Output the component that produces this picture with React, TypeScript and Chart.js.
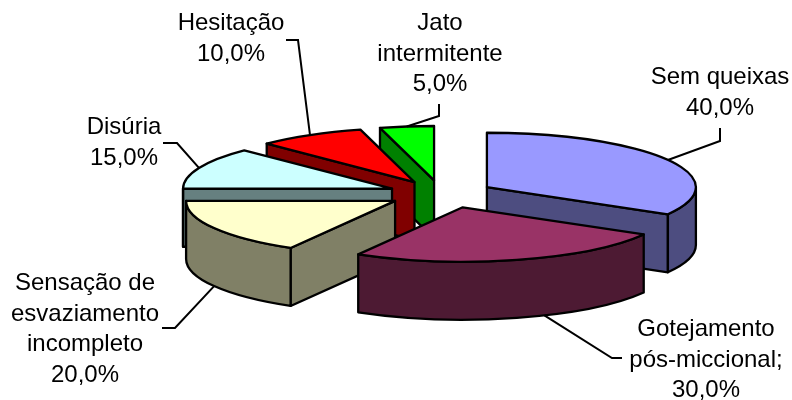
import { useEffect, useRef } from "react";
import { Chart, registerables } from "chart.js";

Chart.register(...registerables);

// Urinary complaints, as percentages.
const categories = [
  "Sem queixas",
  "Gotejamento pós-miccional",
  "Sensação de esvaziamento incompleto",
  "Disúria",
  "Hesitação",
  "Jato intermitente",
];
const percentages = [40, 30, 20, 15, 10, 5];
const labelLines = [
  ["Sem queixas"],
  ["Gotejamento", "pós-miccional;"],
  ["Sensação de", "esvaziamento", "incompleto"],
  ["Disúria"],
  ["Hesitação"],
  ["Jato", "intermitente"],
];
const topColors = ["#9999FF", "#993366", "#FFFFCC", "#CCFFFF", "#FF0000", "#00FF00"];
const wallColors = ["#4D4D80", "#4D1A33", "#808066", "#668080", "#800000", "#008000"];

// Callout placement: text centre, first baseline, leader elbow points, and how far
// the leader's foot sits from the middle of its slice, in degrees.
const callouts = [
  { x: 720, y: 84, elbow: [[720, 141], [720, 128]], foot: 0 },
  { x: 706, y: 336, elbow: [[612, 358], [622, 358]], foot: -8 },
  { x: 85, y: 290, elbow: [[175, 328], [162, 328]], foot: 0 },
  { x: 124, y: 134, elbow: [[177, 143], [163, 143]], foot: 0 },
  { x: 231, y: 30, elbow: [[298, 40], [286, 40]], foot: 0 },
  { x: 440, y: 30, elbow: [[439, 116], [439, 104]], foot: 0 },
];

const PIE_X = 441;
const PIE_Y = 194;
const RADIUS = 209;
const SQUASH = 0.26;
const EXPLODE = 53;
const DEPTH = 58;
const LINE_HEIGHT = 30.5;
const STROKE = 2.3;
const drawOrder = [5, 4, 3, 0, 2, 1];
const sliceShiftX = [0, 8, 0, 0, 0, 0];
const pctText = (v: number) => `${v.toFixed(1).replace(".", ",")}%`;

// Draws each pie arc as an exploded, tilted prism: walls first, then the library's arc as the lid.
const prismPie = {
  id: "prismPie",
  beforeDatasetsDraw(chart: any) {
    const { ctx } = chart;
    const arcs = chart.getDatasetMeta(0).data;
    const apexOf = (arc: any, i: number) => {
      const mid = (arc.startAngle + arc.endAngle) / 2;
      return {
        x: PIE_X + Math.cos(mid) * EXPLODE + sliceShiftX[i],
        y: PIE_Y + Math.sin(mid) * EXPLODE * SQUASH,
      };
    };
    const ry = RADIUS * SQUASH;

    for (const i of drawOrder) {
      const arc = arcs[i];
      const { startAngle: s, endAngle: e } = arc;
      const a = apexOf(arc, i);
      ctx.save();
      ctx.lineWidth = STROKE;
      ctx.strokeStyle = "#000";
      ctx.lineJoin = "round";
      ctx.fillStyle = wallColors[i];

      const cutWall = (t: number) => {
        const rx0 = a.x + Math.cos(t) * RADIUS;
        const ry0 = a.y + Math.sin(t) * ry;
        ctx.beginPath();
        ctx.moveTo(a.x, a.y);
        ctx.lineTo(rx0, ry0);
        ctx.lineTo(rx0, ry0 + DEPTH);
        ctx.lineTo(a.x, a.y + DEPTH);
        ctx.closePath();
        ctx.fill();
        ctx.stroke();
      };
      if (Math.cos(s) < 0) cutWall(s);
      if (Math.cos(e) > 0) cutWall(e);

      // Outer wall, the part of the rim that faces the viewer.
      const from = Math.max(s, 0);
      const to = Math.min(e, Math.PI);
      if (to > from) {
        ctx.beginPath();
        ctx.ellipse(a.x, a.y, RADIUS, ry, 0, from, to);
        ctx.ellipse(a.x, a.y + DEPTH, RADIUS, ry, 0, to, from, true);
        ctx.closePath();
        ctx.fill();
        ctx.stroke();
      }

      // Lid: the arc element itself, flattened onto the tilted plane.
      ctx.save();
      ctx.translate(a.x, a.y);
      ctx.scale(1, SQUASH);
      ctx.translate(-arc.x, -arc.y);
      arc.draw(ctx);
      ctx.restore();
      ctx.beginPath();
      ctx.moveTo(a.x, a.y);
      ctx.ellipse(a.x, a.y, RADIUS, ry, 0, s, e);
      ctx.closePath();
      ctx.stroke();
      ctx.restore();
    }

    // Callouts and their leader lines.
    ctx.save();
    ctx.fillStyle = "#000";
    ctx.strokeStyle = "#000";
    ctx.lineWidth = 2;
    ctx.font = '24px "Liberation Sans"';
    ctx.textAlign = "center";
    ctx.textBaseline = "alphabetic";
    arcs.forEach((arc: any, i: number) => {
      const a = apexOf(arc, i);
      const c = callouts[i];
      const foot = (arc.startAngle + arc.endAngle) / 2 + (c.foot * Math.PI) / 180;
      const sinF = Math.sin(foot);
      ctx.beginPath();
      ctx.moveTo(
        a.x + Math.cos(foot) * RADIUS,
        a.y + sinF * ry + (sinF > 0.3 ? DEPTH : 0)
      );
      c.elbow.forEach(([x, y]) => ctx.lineTo(x, y));
      ctx.stroke();
      const lines = [...labelLines[i], pctText(percentages[i])];
      lines.forEach((t, n) => ctx.fillText(t, c.x, c.y + n * LINE_HEIGHT));
    });
    ctx.restore();
    return false;
  },
};

export default function App() {
  const ref = useRef<HTMLCanvasElement>(null);
  useEffect(() => {
    const chart = new Chart(ref.current!, {
      type: "pie",
      data: {
        labels: categories,
        datasets: [
          {
            data: percentages,
            backgroundColor: topColors,
            borderWidth: 0,
            radius: RADIUS,
          } as any,
        ],
      },
      options: {
        responsive: false,
        animation: false,
        plugins: { legend: { display: false }, tooltip: { enabled: false } },
      },
      plugins: [prismPie],
    } as any);
    return () => chart.destroy();
  }, []);
  return (
    <div style={{ position: "absolute", left: 0, top: 0, width: 792, height: 400, background: "#fff" }}>
      <canvas ref={ref} width={792} height={400} style={{ display: "block" }} />
    </div>
  );
}
